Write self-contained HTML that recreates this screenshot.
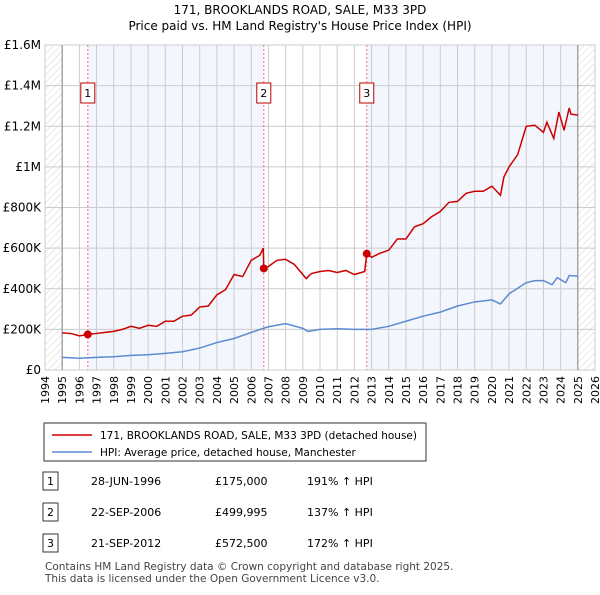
<!DOCTYPE html>
<html><head><meta charset="utf-8"><style>
body{margin:0;background:#fff;font-family:"Liberation Sans","DejaVu Sans",sans-serif;}
svg text{font-family:"DejaVu Sans","Liberation Sans",sans-serif;}
</style></head><body>
<svg id="c" width="600" height="590" xmlns="http://www.w3.org/2000/svg">
<defs><pattern id="h" width="5" height="5" patternUnits="userSpaceOnUse" patternTransform="rotate(45)"><line x1="0" y1="0" x2="0" y2="5" stroke="#d4d4d4" stroke-width="1"/></pattern></defs>
<text x="300" y="14" text-anchor="middle" font-size="12">171, BROOKLANDS ROAD, SALE, M33 3PD</text>
<text x="300" y="30" text-anchor="middle" font-size="12">Price paid vs. HM Land Registry's House Price Index (HPI)</text>
<g id="plot"></g>
<rect x="44" y="423" width="382" height="38" fill="#fff" stroke="#333"/>
<line x1="52" y1="435" x2="92" y2="435" stroke="#cc0000" stroke-width="1.5"/>
<text x="100" y="439" font-size="10.5">171, BROOKLANDS ROAD, SALE, M33 3PD (detached house)</text>
<line x1="52" y1="452" x2="92" y2="452" stroke="#5b8bd0" stroke-width="1.5"/>
<text x="100" y="456" font-size="10.5">HPI: Average price, detached house, Manchester</text>
<g id="tbl"></g>
<text x="45" y="570" font-size="10.5" fill="#444">Contains HM Land Registry data © Crown copyright and database right 2025.</text>
<text x="45" y="582" font-size="10.5" fill="#444">This data is licensed under the Open Government Licence v3.0.</text>
</svg>
<script>
const redT=[1995,1995.5,1996,1996.49,1997,1997.5,1998,1998.5,1999,1999.5,2000,2000.5,2001,2001.5,2002,2002.5,2003,2003.5,2004,2004.5,2005,2005.5,2006,2006.5,2006.7,2006.73,2007,2007.5,2008,2008.5,2009,2009.2,2009.5,2010,2010.5,2011,2011.5,2012,2012.6,2012.72,2013,2013.5,2014,2014.5,2015,2015.5,2016,2016.5,2017,2017.5,2018,2018.5,2019,2019.5,2020,2020.5,2020.7,2021,2021.5,2022,2022.5,2023,2023.2,2023.6,2023.9,2024.2,2024.5,2024.6,2025];
const redV=[183,180,168,175,180,185,190,200,215,205,220,215,240,240,265,270,310,315,370,395,470,460,540,565,600,500,510,540,545,520,470,450,475,485,490,480,490,470,485,572,555,575,590,645,645,705,720,755,780,825,830,870,880,880,905,860,950,1000,1060,1200,1205,1170,1220,1140,1270,1180,1290,1260,1255];
const blueT=[1995,1996,1997,1998,1999,2000,2001,2002,2003,2004,2005,2006,2006.7,2007,2008,2009,2009.3,2010,2011,2012,2013,2014,2015,2016,2017,2018,2019,2020,2020.5,2021,2022,2022.5,2023,2023.5,2023.8,2024.3,2024.5,2025];
const blueV=[62,58,62,65,72,75,82,90,108,135,155,185,205,213,228,205,190,200,203,200,200,215,240,265,285,315,335,345,325,375,430,440,440,420,455,430,465,462];
const saleT=[1996.49,2006.73,2012.72];
const saleV=[175,499.995,572.5];
const saleLbl=["1","2","3"];
const saleDate=["28-JUN-1996","22-SEP-2006","21-SEP-2012"];
const salePrice=["£175,000","£499,995","£572,500"];
const saleHpi=["191% ↑ HPI","137% ↑ HPI","172% ↑ HPI"];
const yTicks=[0,200,400,600,800,1000,1200,1400,1600];
const yLbls=["£0","£200K","£400K","£600K","£800K","£1M","£1.2M","£1.4M","£1.6M"];
const years=[];for(let y=1994;y<=2026;y++)years.push(y);
const X0=45,X1=595,Y0=370,Y1=45;
const sx=t=>X0+(t-1994)/32*(X1-X0);
const sy=v=>Y0-v/1600*(Y0-Y1);
const NS="http://www.w3.org/2000/svg";
const P=document.getElementById('plot');
function mk(tag,a,p){const e=document.createElementNS(NS,tag);for(const k in a)e.setAttribute(k,a[k]);(p||P).appendChild(e);return e;}
let e;
e=mk('rect',{x:sx(1994),y:Y1,width:sx(1995)-sx(1994),height:Y0-Y1,fill:'url(#h)'});


e=mk('rect',{x:sx(2025),y:Y1,width:sx(2026)-sx(2025),height:Y0-Y1,fill:'url(#h)'});


e=mk('rect',{x:sx(saleT[0]),y:Y1,width:sx(saleT[1])-sx(saleT[0]),height:Y0-Y1,fill:'#f3f6fd'});


e=mk('rect',{x:sx(saleT[2]),y:Y1,width:sx(2025)-sx(saleT[2]),height:Y0-Y1,fill:'#f3f6fd'});


years.forEach(y=>{
 e=mk('line',{x1:sx(y),x2:sx(y),y1:Y1,y2:Y0,stroke:'#ccc','stroke-width':1});
 
 
 e=mk('text',{x:0,y:0,'font-size':11,'text-anchor':'end',transform:`translate(${sx(y)+4},${Y0+6}) rotate(-90)`});
 e.textContent=y;
 
 
});
yTicks.forEach((v,i)=>{
 e=mk('line',{x1:X0,x2:X1,y1:sy(v),y2:sy(v),stroke:'#ccc','stroke-width':1});
 
 
 e=mk('text',{x:X0-4,y:sy(v)+4,'font-size':12,'text-anchor':'end'});
 e.textContent=yLbls[i];
 
 
});
e=mk('rect',{x:X0,y:Y1,width:X1-X0,height:Y0-Y1,fill:'none',stroke:'#ccc'});


[1995,2025].forEach(y=>{e=mk('line',{x1:sx(y),x2:sx(y),y1:Y1,y2:Y0,stroke:'#888','stroke-width':1});

});
saleT.forEach((t,i)=>{
 e=mk('line',{x1:sx(t),x2:sx(t),y1:Y1,y2:Y0,stroke:'#f07070','stroke-dasharray':'2,2','stroke-width':1});
 
 
 e=mk('rect',{x:sx(t)-7,y:83,width:14,height:20,fill:'#fff',stroke:'#b00'});
 
 
 e=mk('text',{x:sx(t),y:97,'font-size':11,'text-anchor':'middle'});
 e.textContent=saleLbl[i];
 
 
});
e=mk('polyline',{points:blueT.map((t,i)=>sx(t)+','+sy(blueV[i])).join(' '),fill:'none',stroke:'#5b8bd0','stroke-width':1.5});


e=mk('polyline',{points:redT.map((t,i)=>sx(t)+','+sy(redV[i])).join(' '),fill:'none',stroke:'#cc0000','stroke-width':1.5});


saleT.forEach((t,i)=>{
 e=mk('circle',{cx:sx(t),cy:sy(saleV[i]),r:4,fill:'#cc0000'});
 
 
});
const T=document.getElementById('tbl');
const rowY=[482,513,544];
saleLbl.forEach((l,i)=>{
 const y=rowY[i];
 e=mk('rect',{x:43,y:y-10,width:15,height:18,fill:'#fff',stroke:'#333'},T);
 
 
 e=mk('text',{x:50.5,y:y+3,'font-size':11,'text-anchor':'middle'},T);e.textContent=l;
 
 
 e=mk('text',{x:91,y:y+3,'font-size':11},T);e.textContent=saleDate[i];
 
 
 e=mk('text',{x:215,y:y+3,'font-size':11},T);e.textContent=salePrice[i];
 
 
 e=mk('text',{x:307,y:y+3,'font-size':11},T);e.textContent=saleHpi[i];
 
 
});
</script>
</body></html>
